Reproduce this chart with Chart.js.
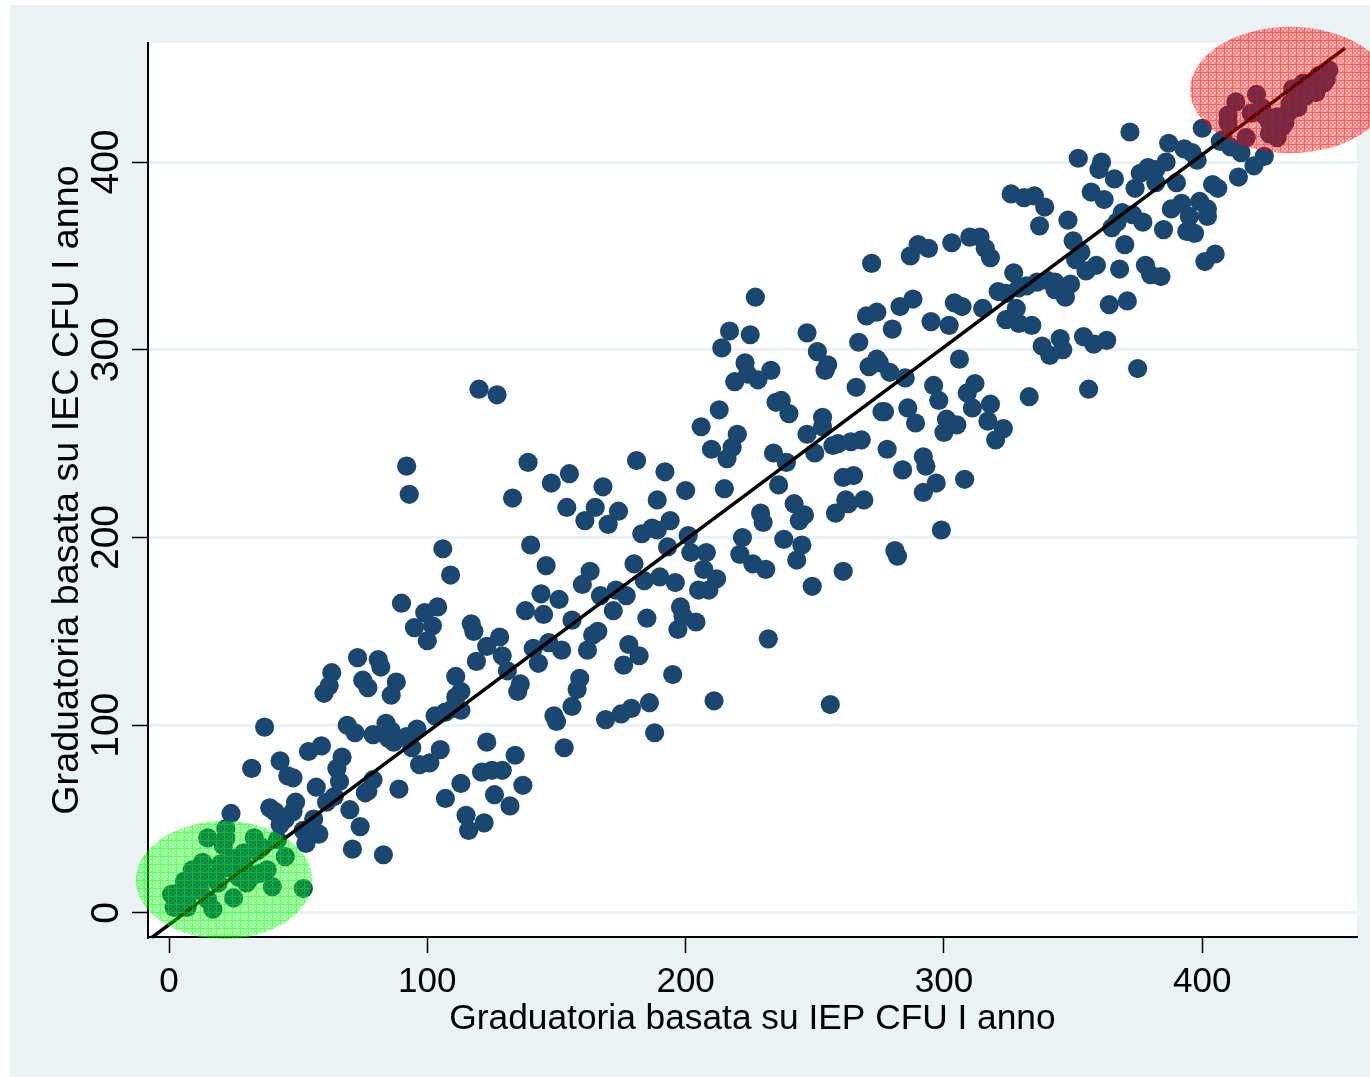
<!DOCTYPE html>
<html>
<head>
<meta charset="utf-8">
<style>
html, body { margin: 0; padding: 0; background: #fff; }
#wrap { width: 1370px; height: 1077px; }
</style>
<script src="https://cdn.jsdelivr.net/npm/chart.js@4"></script>
</head>
<body>
<div id="wrap"><canvas id="myChart" width="1370" height="1077"></canvas></div>
<script>
var xTicks = [0, 100, 200, 300, 400];
var yTicks = [0, 100, 200, 300, 400];
var xTitle = 'Graduatoria basata su IEP CFU I anno';
var yTitle = 'Graduatoria basata su IEC CFU I anno';

// ranks, x and y lists run in the same order
var lowX = [1,2,6,9,13,8,12,15,22,22, 21,20,17,15,17,25,25,29,33,36, 31,29,38,40,45,42,52,4,7,5, 10,11,14,7,19,23,27,34,30,35];
var lowY = [10,3,17,23,27,14,12,40,45,40, 36,26,19,7,2,8,29,32,40,35, 18,25,23,14,30,39,13,7,3,12, 18,22,20,8,16,24,19,33,16,21];

var aX = [24,32,37,39,41,43,46,48,49,48, 45,43,52,53,58,56,57,59,54,60, 62,63,61,64,66,65,67,69,72,70, 74,71,83,73,75,77,81,82,88,86, 79,84,86,85,87,92,96,94,97,101, 89,79,77,76,105,90,92,93,95,99];
var aY = [53,77,99,56,54,81,73,72,59,54, 50,47,44,37,42,50,67,89,86,117, 121,128,59,62,70,77,83,100,96,55, 46,34,31,136,124,120,135,131,123,116, 95,101,97,93,91,94,98,88,79,80, 66,71,65,64,87,165,238,223,152,160];

var bX = [102,100,104,106,109,103,107,110,111,113, 111,113,107,113,115,116,122,121,125,129, 123,126,132,134,137,117,118,119,123,128, 129,131,135,136,120,127,133,139,140,138, 141,143,144,145,146,148,147,151,152,154, 155,156,149,150,153,156,158,159,161,160];
var bY = [153,145,163,194,180,105,107,109,115,118, 126,108,61,69,52,44,48,75,76,76, 91,63,57,84,68,154,150,134,142,147, 137,129,118,122,279,276,221,240,196,161, 141,133,170,159,185,229,144,167,140,216, 234,156,105,102,88,110,119,125,209,175];

var cX = [163,162,164,166,165,168,167,170,174,169, 175,179,172,173,176,177,178,182,180,181, 183,184,185,186,188,187,189,190,192,193, 194,189,195,196,197,198,199,200,201,202, 204,206,205,207,208,209,210,211,212,213];
var cY = [182,140,148,150,216,227,169,207,214,103, 106,109,161,172,132,169,143,137,186,241, 202,177,157,112,96,205,220,179,235,195, 209,204,127,176,151,163,158,225,201,192, 155,259,172,183,192,172,247,113,178,268];

var dX = [214,215,216,217,218,220,219,221,222,223, 224,225,226,227,228,229,230,231,233,232, 234,235,237,236,239,240,238,242,243,245, 244,246,247,249,250,247,251,253,253,254, 255,256,257,259,258,261,261,262,263,265];
var dY = [301,226,242,310,248,255,283,191,200,293, 287,308,186,328,284,213,208,183,289,146, 245,272,273,228,240,266,199,218,188,196, 209,212,255,174,245,309,299,259,264,289, 292,111,249,250,213,232,182,220,218,233];

var eX = [264,267,266,268,269,270,272,271,274,274, 275,276,277,278,279,280,281,282,283,284, 285,286,287,288,289,290,292,292,293,294, 295,297,296,298,299,300,301,302,303,304, 305,306,307,308,309,310,311,312,314,315, 316,317,318,318,320,321,323,324,324];
var eY = [251,304,280,252,220,318,346,291,320,295, 293,267,267,247,288,311,193,190,323,236, 285,269,350,327,261,356,224,243,238,354, 315,229,281,273,204,256,263,313,357,325, 260,295,323,231,277,360,269,282,360,322, 354,262,271,349,252,331,258,316,330];

var fX = [372,387,400,352,361,360,366,376,379,382, 386,393,396,398,374,382,390,357,362,326, 331,335,339,337,348,350,353,351,355,359, 365,367,369,373,377,370,368,378,380,384, 371,364,385,388,392,399,402,395,402,394, 397,401,405,404,406,414,420,407,327,329, 332,336,340,343,344,343,347,349,328,329, 334,338,341,345,346,354,358,363,375,356, 333];
var fY = [416,410,418,402,400,396,391,394,397,396, 400,407,405,401,386,389,389,384,380,383, 381,382,376,366,369,358,352,348,342,345, 365,368,373,372,368,356,343,345,340,339, 326,324,364,375,378,379,375,371,371,363, 362,347,351,388,386,392,398,411,341,333, 334,336,337,336,333,332,328,335,322,314, 313,302,297,306,300,307,303,305,290,279, 275];

var topX = [408,411,415,424,410,413,421,419,417,424, 426,431,426,429,437,435,439,442,445,449, 448,433,429,440,444,447,423,437,432,434, 410];
var topY = [412,408,405,403,421,432,436,426,413,425, 421,419,415,413,429,439,442,439,446,449, 444,426,424,435,437,442,429,435,421,431, 425];

var fitX = [-6.6, 455.3];
var fitY = [-13, 460.7];

var allX = lowX.concat(aX, bX, cX, dX, eX, fX, topX);
var allY = lowY.concat(aY, bY, cY, dY, eY, fY, topY);
var points = allX.map(function(v, i) { return { x: v, y: allY[i] }; });
var fitLine = fitX.map(function(v, i) { return { x: v, y: fitY[i] }; });

var FONT = '"Liberation Sans", Arial, sans-serif';

// hatched fill like the stata highlight circles
function makeHatch(ctx, r, g, b) {
    var c = document.createElement('canvas');
    c.width = 8; c.height = 8;
    var p = c.getContext('2d');
    for (var i = 0; i < 8; i++) {
        for (var j = 0; j < 8; j++) {
            var a = ((i >> 1) + (j >> 1)) % 2 == 0 ? 0.48 : 0.27;
            if (i == 0 || j == 0) a = 0.62;
            p.fillStyle = 'rgba(' + r + ',' + g + ',' + b + ',' + a + ')';
            p.fillRect(i, j, 1, 1);
        }
    }
    return ctx.createPattern(c, 'repeat');
}

var panelPlugin = {
    id: 'panel',
    beforeDraw: function(chart) {
        var ctx = chart.ctx, a = chart.chartArea;
        ctx.save();
        ctx.fillStyle = '#fff';
        ctx.fillRect(0, 0, chart.width, chart.height);
        ctx.fillStyle = '#EAF2F3';
        ctx.fillRect(10, 5, chart.width - 10, chart.height - 5);
        ctx.fillStyle = '#fff';
        ctx.fillRect(a.left, a.top, a.right - a.left, a.bottom - a.top);
        ctx.restore();
    },
    afterDatasetsDraw: function(chart) {
        var ctx = chart.ctx, xs = chart.scales.x, ys = chart.scales.y;
        function blob(cx, cy, rx, ry, fill) {
            ctx.save();
            ctx.beginPath();
            ctx.ellipse(xs.getPixelForValue(cx), ys.getPixelForValue(cy),
                rx * Math.abs(xs.getPixelForValue(1) - xs.getPixelForValue(0)),
                ry * Math.abs(ys.getPixelForValue(1) - ys.getPixelForValue(0)),
                0, 0, Math.PI * 2);
            ctx.fillStyle = fill;
            ctx.fill();
            ctx.restore();
        }
        blob(21.3, 17.6, 34.1, 31.4, makeHatch(ctx, 0, 255, 0));
        blob(434, 438.4, 38.7, 33.6, makeHatch(ctx, 255, 0, 0));
    }
};

var ctx = document.getElementById('myChart').getContext('2d');
var myChart = new Chart(ctx, {
    type: 'scatter',
    plugins: [panelPlugin],
    data: {
        datasets: [{
            data: fitLine,
            showLine: true,
            borderColor: '#000',
            borderWidth: 3.6,
            pointRadius: 0,
            clip: false
        }, {
            data: points,
            backgroundColor: '#1A476F',
            borderWidth: 0,
            pointRadius: 9.6,
            clip: false
        }]
    },
    options: {
        responsive: false,
        animation: false,
        layout: { padding: { top: 43, right: 13, left: 0, bottom: 0 } },
        plugins: { legend: { display: false }, tooltip: { enabled: false } },
        scales: {
            x: {
                type: 'linear',
                min: -8.13,
                max: 459.9,
                afterFit: function(scale) { scale.height = 140; },
                afterBuildTicks: function(scale) { scale.ticks = xTicks.map(function(v) { return { value: v }; }); },
                grid: { drawOnChartArea: false, tickLength: 16, tickColor: '#000', tickWidth: 1.5 },
                border: { display: true, color: '#000', width: 2 },
                ticks: {
                    color: '#000', padding: 8, maxRotation: 0, autoSkip: false,
                    font: { family: FONT, size: 35 }
                },
                title: {
                    display: true, text: xTitle, color: '#000',
                    padding: { top: 37, bottom: 37 },
                    font: { family: FONT, size: 35.3 }
                }
            },
            y: {
                type: 'linear',
                min: -12.8,
                max: 463.4,
                afterFit: function(scale) { scale.width = 148; },
                afterBuildTicks: function(scale) { scale.ticks = yTicks.map(function(v) { return { value: v }; }); },
                grid: { color: '#EAF2F3', lineWidth: 3, tickLength: 16, tickColor: '#000', tickWidth: 1.5 },
                border: { display: true, color: '#000', width: 2 },
                ticks: {
                    color: '#000', padding: -8, minRotation: 90, maxRotation: 90, crossAlign: 'center', autoSkip: false,
                    font: { family: FONT, size: 39 }
                },
                title: {
                    display: true, text: yTitle, color: '#000',
                    padding: { top: 45, bottom: 45 },
                    font: { family: FONT, size: 37.7 }
                }
            }
        }
    }
});
</script>
</body>
</html>
